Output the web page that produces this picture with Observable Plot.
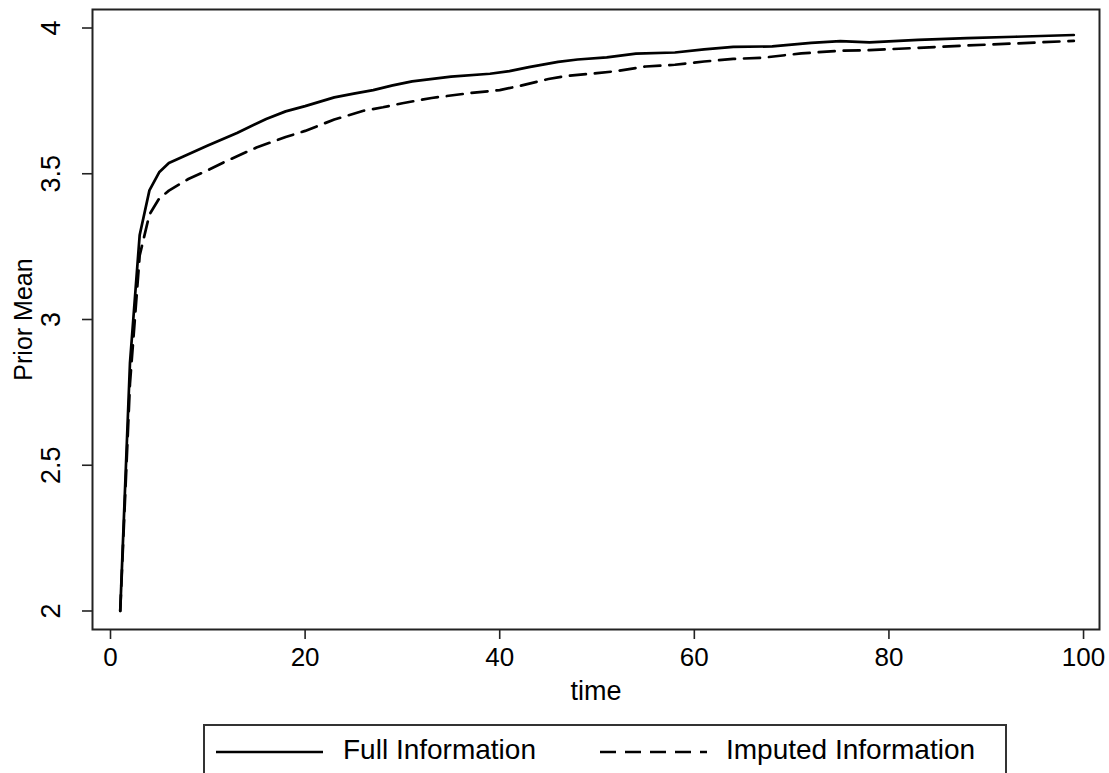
<!DOCTYPE html>
<html>
<head>
<meta charset="utf-8">
<script src="https://cdn.jsdelivr.net/npm/d3@7"></script>
<script src="https://cdn.jsdelivr.net/npm/@observablehq/plot@0.6"></script>
<style>
  html, body { margin: 0; padding: 0; background: #fff; }
  #wrap { position: relative; width: 1109px; height: 773px; overflow: hidden; font-family: "Liberation Sans", Arial, sans-serif; }
  #legend { position: absolute; left: 203px; top: 724px; width: 804px; height: 70px; border: 2px solid #333; box-sizing: border-box; background: #fff; }
  #legend svg { position: absolute; left: 0; top: 0; }
  .lt { position: absolute; font-size: 28px; color: #000; white-space: nowrap; line-height: 1; }
</style>
</head>
<body>
<div id="wrap">
  <div id="chart"></div>
  <div id="legend"></div>
</div>
<script>
// Data
const timeFull = [1, 2, 3, 4, 5, 6, 8, 10, 13, 16, 18, 20, 23, 25, 27, 29, 31, 35, 39, 41, 43, 46, 48, 51, 54, 58, 61, 64, 68, 72, 75, 78, 83, 88, 93, 99];
const valueFull = [2.00, 2.85, 3.29, 3.443, 3.505, 3.537, 3.567, 3.597, 3.640, 3.688, 3.714, 3.732, 3.762, 3.775, 3.787, 3.803, 3.817, 3.833, 3.843, 3.852, 3.866, 3.884, 3.892, 3.899, 3.912, 3.916, 3.927, 3.935, 3.937, 3.949, 3.955, 3.951, 3.959, 3.965, 3.970, 3.976];
const timeImputed = [1, 2, 3, 4, 5, 6, 8, 10, 12, 15, 18, 20, 23, 26, 28, 30, 33, 37, 40, 42, 45, 47, 50, 52, 55, 58, 61, 64, 67, 71, 75, 78, 83, 88, 93, 99];
const valueImputed = [2.00, 2.78, 3.22, 3.36, 3.415, 3.442, 3.482, 3.512, 3.545, 3.590, 3.626, 3.647, 3.686, 3.716, 3.728, 3.742, 3.760, 3.777, 3.787, 3.801, 3.825, 3.836, 3.845, 3.852, 3.868, 3.874, 3.885, 3.894, 3.898, 3.913, 3.922, 3.924, 3.932, 3.940, 3.947, 3.956];
const xTicks = [0, 20, 40, 60, 80, 100];
const yTicks = [2, 2.5, 3, 3.5, 4];
const seriesNames = ["Full Information", "Imputed Information"];

const full = timeFull.map((t, i) => ({time: t, value: valueFull[i]}));
const imputed = timeImputed.map((t, i) => ({time: t, value: valueImputed[i]}));

const chart = Plot.plot({
  width: 1109,
  height: 705,
  marginLeft: 92,
  marginRight: 10,
  marginTop: 9,
  marginBottom: 76,
  style: {fontFamily: "'Liberation Sans', Arial, sans-serif", fontSize: "26px", color: "#000", background: "#fff"},
  x: {domain: [-1.85, 101.64]},
  y: {domain: [1.9365, 4.0635]},
  marks: [
    Plot.axisX({ticks: xTicks, tickSize: 10, tickPadding: 8, fontSize: 26, label: null, tickFormat: d => `${d}`, stroke: "#222", strokeWidth: 1.6}),
    Plot.axisY({ticks: yTicks, tickSize: 10, tickPadding: 23, tickRotate: -90, fontSize: 27, label: null, tickFormat: d => `${d}`, stroke: "#222", strokeWidth: 1.6}),
    Plot.text(["time"], {frameAnchor: "bottom", dy: 62, lineAnchor: "middle", textAnchor: "middle", fontSize: 27, fill: "#000"}),
    Plot.text(["Prior Mean"], {frameAnchor: "left", dx: -69, rotate: -90, lineAnchor: "middle", textAnchor: "middle", fontSize: 25, fill: "#000"}),
    Plot.frame({stroke: "#222", strokeWidth: 2}),
    Plot.line(full, {x: "time", y: "value", stroke: "#000", strokeWidth: 2.7}),
    Plot.line(imputed, {x: "time", y: "value", stroke: "#000", strokeWidth: 2.7, strokeDasharray: "16,9"})
  ]
});
document.getElementById("chart").appendChild(chart);

// Legend below the plot
const legend = document.getElementById("legend");
legend.innerHTML = `
<svg width="800" height="70">
  <line x1="11" x2="118" y1="26" y2="26" stroke="#000" stroke-width="2.7"></line>
  <line x1="395" x2="502" y1="26" y2="26" stroke="#000" stroke-width="2.7" stroke-dasharray="16,9"></line>
</svg>
<div class="lt" style="left:138px; top:10px;">${seriesNames[0]}</div>
<div class="lt" style="left:521px; top:10px;">${seriesNames[1]}</div>`;
</script>
</body>
</html>
